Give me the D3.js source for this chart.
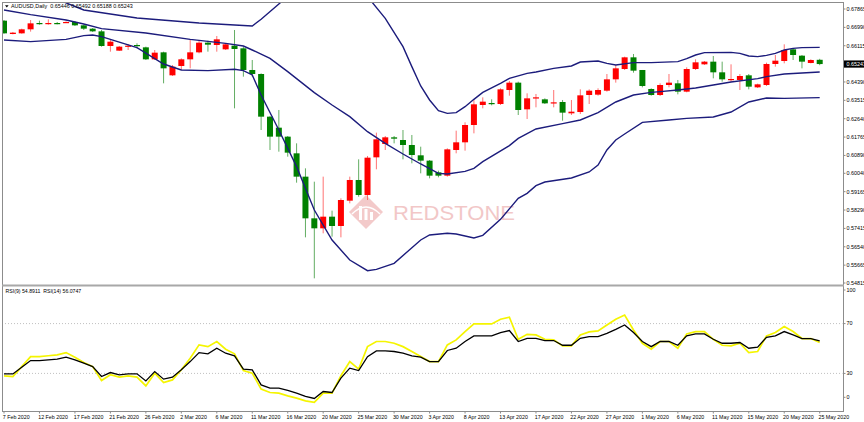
<!DOCTYPE html>
<html><head><meta charset="utf-8">
<script src="https://cdnjs.cloudflare.com/ajax/libs/d3/7.8.5/d3.min.js"></script>
<style>html,body{margin:0;padding:0;background:#fff;overflow:hidden}svg{display:block}text{font-family:"Liberation Sans",Arial,sans-serif}</style>
</head><body><svg id="c" width="864" height="422"></svg>
<script>
const dates = ["7 Feb","9 Feb","10 Feb","11 Feb","12 Feb","13 Feb","14 Feb","16 Feb","17 Feb","18 Feb","19 Feb","20 Feb","21 Feb","23 Feb","24 Feb","25 Feb","26 Feb","27 Feb","28 Feb","1 Mar","2 Mar","3 Mar","4 Mar","5 Mar","6 Mar","8 Mar","9 Mar","10 Mar","11 Mar","12 Mar","13 Mar","15 Mar","16 Mar","17 Mar","18 Mar","19 Mar","20 Mar","22 Mar","23 Mar","24 Mar","25 Mar","26 Mar","27 Mar","29 Mar","30 Mar","31 Mar","1 Apr","2 Apr","3 Apr","5 Apr","6 Apr","7 Apr","8 Apr","9 Apr","10 Apr","12 Apr","13 Apr","14 Apr","15 Apr","16 Apr","17 Apr","19 Apr","20 Apr","21 Apr","22 Apr","23 Apr","24 Apr","26 Apr","27 Apr","28 Apr","29 Apr","30 Apr","1 May","3 May","4 May","5 May","6 May","7 May","8 May","10 May","11 May","12 May","13 May","14 May","15 May","17 May","18 May","19 May","20 May","21 May","22 May","24 May","25 May"];
const openP  = [0.67309,0.66674,0.66706,0.66897,0.67198,0.67151,0.67198,0.67214,0.67246,0.67087,0.66928,0.66801,0.66103,0.65881,0.66087,0.66150,0.66039,0.65468,0.65801,0.64706,0.65150,0.65468,0.65801,0.66262,0.66150,0.65944,0.66119,0.65992,0.64960,0.64769,0.62737,0.62213,0.61785,0.60991,0.59880,0.57895,0.57419,0.57974,0.57530,0.58736,0.59721,0.59006,0.60800,0.61435,0.61753,0.61626,0.61388,0.60896,0.60642,0.60086,0.59927,0.61150,0.61515,0.62340,0.63293,0.63388,0.63340,0.64007,0.64357,0.63086,0.63626,0.63563,0.63388,0.63436,0.62896,0.62959,0.63769,0.63785,0.63975,0.64515,0.65007,0.65563,0.64960,0.64055,0.63769,0.64245,0.64325,0.63928,0.65007,0.65230,0.65357,0.64849,0.64499,0.64484,0.64706,0.64134,0.64245,0.65246,0.65388,0.65944,0.65642,0.65293,0.65446];
const highP  = [0.67341,0.66770,0.66928,0.67341,0.67309,0.67373,0.67246,0.67278,0.67294,0.67119,0.66960,0.66865,0.66420,0.66103,0.66198,0.66230,0.66071,0.65912,0.65833,0.65198,0.65515,0.66420,0.66389,0.66357,0.66579,0.66230,0.66865,0.66071,0.65436,0.64800,0.62760,0.63055,0.61816,0.61467,0.60276,0.59641,0.59880,0.58260,0.58848,0.59880,0.60705,0.60864,0.61975,0.61816,0.61816,0.62102,0.61864,0.61308,0.60673,0.60165,0.61229,0.62070,0.62467,0.63531,0.63658,0.63563,0.64087,0.64436,0.64404,0.63848,0.63817,0.63610,0.64007,0.63531,0.63531,0.64039,0.64039,0.64087,0.64769,0.65198,0.65595,0.65722,0.64960,0.64087,0.64325,0.64769,0.64484,0.65087,0.65468,0.65388,0.65626,0.65357,0.65230,0.64769,0.64769,0.64309,0.65309,0.65674,0.66182,0.65992,0.65674,0.65468,0.65492];
const lowP   = [0.66690,0.66658,0.66690,0.66786,0.67119,0.67119,0.67135,0.67198,0.67055,0.66865,0.66770,0.66071,0.65833,0.65865,0.65912,0.65992,0.65436,0.65436,0.64325,0.64674,0.64960,0.65039,0.65754,0.65833,0.65833,0.65912,0.63134,0.64642,0.64642,0.62102,0.61150,0.61070,0.60832,0.59594,0.56990,0.55037,0.57181,0.57022,0.56990,0.58609,0.58927,0.58768,0.60229,0.61150,0.61467,0.60705,0.60515,0.60038,0.59800,0.59848,0.59880,0.60991,0.61118,0.61943,0.63134,0.63277,0.63293,0.63737,0.62816,0.62626,0.63182,0.63340,0.63182,0.62547,0.62816,0.62864,0.63340,0.63737,0.63928,0.64357,0.64960,0.64833,0.64134,0.63737,0.63721,0.64134,0.63801,0.63896,0.64960,0.65198,0.64563,0.64404,0.64404,0.64007,0.64039,0.64102,0.64198,0.65119,0.65277,0.65436,0.65039,0.65277,0.65188];
const closeP = [0.66706,0.66738,0.66897,0.67182,0.67151,0.67198,0.67151,0.67246,0.67087,0.66928,0.66801,0.66103,0.66309,0.66071,0.66119,0.66119,0.65468,0.65785,0.65039,0.65119,0.65468,0.65801,0.66262,0.66166,0.66420,0.66182,0.65960,0.64960,0.64769,0.62737,0.61785,0.61785,0.61023,0.59880,0.57895,0.57419,0.57974,0.57530,0.58768,0.59721,0.59006,0.60784,0.61658,0.61753,0.61689,0.61388,0.60911,0.60642,0.59927,0.59927,0.61181,0.61515,0.62340,0.63325,0.63452,0.63356,0.64039,0.64357,0.63055,0.63610,0.63658,0.63372,0.63420,0.62928,0.62975,0.63753,0.63975,0.64007,0.64515,0.65039,0.65563,0.64928,0.64198,0.63769,0.64245,0.64357,0.63928,0.65007,0.65325,0.65357,0.64849,0.64515,0.64531,0.64674,0.64166,0.64277,0.65246,0.65404,0.65912,0.65674,0.65357,0.65436,0.65243];
const bbUpper = [[0,0.69246],[6,0.68326],[9,0.67817],[15,0.67436],[22,0.67198],[28,0.67055],[29,0.67373],[31,0.68103],[33,0.68849],[35,0.69405],[37,0.69643],[39,0.69405],[40,0.69008],[41,0.68453],[43,0.67421],[45,0.66071],[46,0.65119],[47,0.64198],[48,0.63531],[49,0.63023],[50,0.62896],[51,0.62928],[52,0.63213],[53,0.63563],[54,0.63896],[56,0.64325],[57,0.64563],[59,0.64801],[60,0.64865],[62,0.65039],[64,0.65150],[65,0.65341],[67,0.65388],[68,0.65277],[69,0.65198],[71,0.65309],[73,0.65309],[76,0.65357],[77,0.65500],[78,0.65674],[79,0.65785],[82,0.65801],[83,0.65754],[84,0.65627],[85,0.65595],[86,0.65658],[87,0.65754],[88,0.65912],[89,0.65992],[90,0.66023],[92,0.66039]];
const bbMiddle = [[0,0.67817],[3,0.67595],[7,0.67341],[9,0.67151],[11,0.66928],[16,0.66722],[21,0.66420],[25,0.66230],[27,0.66103],[28,0.65912],[30,0.65515],[32,0.64880],[35,0.63880],[37,0.63293],[39,0.62737],[41,0.62023],[43,0.61467],[45,0.60959],[47,0.60483],[49,0.60038],[50,0.60006],[52,0.60133],[53,0.60276],[54,0.60594],[57,0.61356],[58,0.61705],[60,0.62150],[63,0.62404],[65,0.62578],[67,0.62928],[69,0.63436],[71,0.63769],[73,0.63896],[74,0.63928],[76,0.64007],[78,0.64102],[80,0.64245],[82,0.64388],[85,0.64547],[86,0.64642],[88,0.64769],[92,0.64865]];
const bbLower = [[0,0.66389],[3,0.66309],[7,0.66420],[9,0.66595],[10,0.66627],[11,0.66547],[15,0.66023],[18,0.65246],[20,0.64960],[23,0.64928],[26,0.64992],[27,0.64928],[28,0.64722],[29,0.63769],[31,0.62102],[33,0.60356],[35,0.58292],[37,0.56863],[39,0.55910],[41,0.55402],[42,0.55466],[44,0.55752],[47,0.56863],[48,0.57101],[50,0.57181],[51,0.57149],[53,0.56958],[54,0.57085],[56,0.57847],[58,0.58848],[59,0.59086],[60,0.59451],[61,0.59625],[64,0.59816],[66,0.60102],[67,0.60435],[68,0.61150],[69,0.61626],[70,0.61912],[72,0.62467],[75,0.62578],[77,0.62658],[80,0.62721],[82,0.62959],[84,0.63436],[86,0.63626],[88,0.63610],[92,0.63642]];
const rsi14 = [29.6,29.6,35.0,40.3,40.3,40.8,41.4,43.0,40.9,38.2,35.5,27.5,30.7,28.9,29.7,29.7,24.0,31.5,25.4,27.0,32.9,39.5,46.7,45.7,50.2,46.2,44.1,33.4,32.9,20.8,18.2,18.2,16.3,14.2,11.5,9.9,15.5,14.7,26.2,34.2,32.3,43.5,48.1,48.1,47.6,46.2,44.1,43.0,39.5,39.5,48.4,50.2,55.6,60.1,60.1,60.1,62.8,64.4,55.6,58.2,58.2,56.4,56.4,52.6,52.6,58.2,59.6,59.6,62.2,65.4,68.9,62.8,55.6,51.5,55.6,55.6,52.6,60.1,61.7,61.7,57.4,54.2,54.2,54.8,50.2,51.0,59.0,60.1,63.6,60.9,58.0,58.0,56.07];
const rsi9 = [28.0,27.5,35.5,43.5,43.5,44.2,44.9,46.7,43.0,38.7,35.5,24.3,28.9,27.0,28.1,27.0,20.0,30.2,22.7,24.8,32.9,42.2,52.9,51.5,55.6,49.4,45.7,32.3,30.2,17.4,14.7,14.2,12.0,10.2,8.0,6.7,14.2,14.2,28.1,39.5,33.4,51.5,55.6,55.6,54.2,51.5,47.6,43.5,39.5,39.5,52.9,56.9,63.6,69.7,69.7,69.7,73.5,75.1,57.4,61.4,60.9,57.4,56.9,52.1,52.1,60.9,63.3,64.1,68.9,73.5,76.9,64.9,54.2,49.4,55.6,55.6,50.2,61.7,63.6,63.6,57.4,52.6,52.1,54.2,46.7,47.6,60.1,62.8,67.6,63.6,58.0,58.0,54.89];
const priceTicks = [0.67865,0.66990,0.66115,0.64390,0.63515,0.62640,0.61765,0.60890,0.60040,0.59165,0.58290,0.57415,0.56540,0.55665,0.54815];
const lastPrice = 0.65243;
const rsiLevels = [70,30];
const rsiTicks = [100,70,30,0];
const titleText = "AUDUSD,Daily  0.65446 0.65492 0.65188 0.65243";
const rsiTitle = "RSI(9) 54.8911  RSI(14) 56.0747";

const svg = d3.select("#c");
const L = 2, R = 843, T = 2, SEP = 285, B = 411;
const x = d3.scaleLinear().domain([0, 92]).range([4, 819.7]);
const y = d3.scaleLinear().domain([0.54815, 0.67865]).range([283, 9]);
const ry = d3.scaleLinear().domain([0, 100]).range([410.8, 286.2]);

const defs = svg.append("defs");
defs.append("clipPath").attr("id","cpTop").append("rect").attr("x",L+0.5).attr("y",T+0.5).attr("width",R-L-1).attr("height",SEP-T-1.5);
defs.append("clipPath").attr("id","cpBot").append("rect").attr("x",L+0.5).attr("y",SEP+1.5).attr("width",R-L-1).attr("height",B-SEP-2);

// watermark
const wm = svg.append("g").attr("opacity",0.55);
wm.append("path").attr("d","M366,195 L383,212 L366,229 L349,212 Z").attr("fill","#eba0a0");
wm.append("path").attr("d","M352,214 Q366,200 380,214").attr("fill","none").attr("stroke","#fff").attr("stroke-width",1.6);
[[359,206,3,14],[364.5,209,3,11],[370,212,3,8]].forEach(b=>wm.append("rect").attr("x",b[0]).attr("y",b[1]).attr("width",b[2]).attr("height",b[3]).attr("fill","#fff"));
wm.append("text").attr("x",393).attr("y",220).attr("font-family","Roboto, 'Open Sans', sans-serif").attr("font-size",21).attr("fill","#e89a9a").attr("textLength",122).attr("lengthAdjust","spacingAndGlyphs").text("REDSTONE");

// candles
const gC = svg.append("g").attr("clip-path","url(#cpTop)");
const idx = d3.range(dates.length);
idx.forEach(i=>{
  const up = closeP[i] >= openP[i];
  const col = up ? "#ff0000" : "#008000";
  const cx = x(i);
  gC.append("line").attr("x1",cx).attr("x2",cx).attr("y1",y(highP[i])).attr("y2",y(lowP[i]))
    .attr("stroke", up ? "#ff5050" : "#3d9a3d").attr("stroke-width",1).attr("opacity",0.8);
  const y0 = y(Math.max(openP[i],closeP[i])), y1 = y(Math.min(openP[i],closeP[i]));
  gC.append("rect").attr("x",cx-3).attr("y",y0).attr("width",6).attr("height",Math.max(1.2,y1-y0)).attr("fill",col);
});

// bands
const bandLine = d3.line().x(d=>x(d[0])).y(d=>y(d[1]));
[bbUpper,bbMiddle,bbLower].forEach(b=>gC.append("path").attr("d",bandLine(b)).attr("fill","none").attr("stroke","#1c1c7c").attr("stroke-width",1.4));

// RSI pane
const gR = svg.append("g").attr("clip-path","url(#cpBot)");
rsiLevels.forEach(v=>gR.append("line").attr("x1",L).attr("x2",R).attr("y1",ry(v)).attr("y2",ry(v)).attr("stroke","#b0b0b0").attr("stroke-width",0.8).attr("stroke-dasharray","1,2"));
const rl = d3.line().x((d,i)=>x(i)).y(d=>ry(d));
gR.append("path").attr("d",rl(rsi9)).attr("fill","none").attr("stroke","#f5f500").attr("stroke-width",1.7);
gR.append("path").attr("d",rl(rsi14)).attr("fill","none").attr("stroke","#000").attr("stroke-width",1.3);

// frame
svg.append("rect").attr("x",L+0.5).attr("y",T+0.5).attr("width",R-L).attr("height",B-T).attr("fill","none").attr("stroke","#8c8c8c").attr("stroke-width",1);
svg.append("line").attr("x1",L).attr("x2",R+1).attr("y1",SEP+0.5).attr("y2",SEP+0.5).attr("stroke","#a8a8a8").attr("stroke-width",2.2);

// price axis
const fs = 5.4;
priceTicks.forEach(v=>{
  svg.append("line").attr("x1",R).attr("x2",R+2.5).attr("y1",y(v)).attr("y2",y(v)).attr("stroke","#8c8c8c");
  svg.append("text").attr("x",R+3.5).attr("y",y(v)+1.9).attr("font-size",fs).attr("fill","#000").text(v.toFixed(5));
});
svg.append("rect").attr("x",R+1).attr("y",y(lastPrice)-3.6).attr("width",864-R).attr("height",7.2).attr("fill","#000");
svg.append("text").attr("x",R+3.5).attr("y",y(lastPrice)+1.9).attr("font-size",fs).attr("fill","#fff").text(lastPrice.toFixed(5));

// rsi axis
rsiTicks.forEach(v=>{
  const yy = Math.min(397.3, Math.max(290, ry(v)));
  svg.append("line").attr("x1",R).attr("x2",R+2.5).attr("y1",yy).attr("y2",yy).attr("stroke","#8c8c8c");
  svg.append("text").attr("x",R+3.5).attr("y",yy+1.9).attr("font-size",fs).attr("fill","#000").text(v);
});

// date axis
idx.filter(i=>i%4===0).forEach(i=>{
  const xx = x(i);
  svg.append("line").attr("x1",xx).attr("x2",xx).attr("y1",B).attr("y2",B+2.5).attr("stroke","#8c8c8c");
  svg.append("text").attr("x",xx-1.2).attr("y",418.6).attr("font-size",5.3).attr("fill","#000").text(dates[i]+" 2020");
});

// titles
svg.append("path").attr("d","M5,5.2 L8.6,5.2 L6.8,7.6 Z").attr("fill","#000");
svg.append("text").attr("x",11).attr("y",8.4).attr("font-size",5.4).attr("fill","#000").attr("xml:space","preserve").style("white-space","pre").text(titleText);
svg.append("text").attr("x",5.5).attr("y",292.8).attr("font-size",5.2).attr("fill","#000").style("white-space","pre").text(rsiTitle);
</script></body></html>
